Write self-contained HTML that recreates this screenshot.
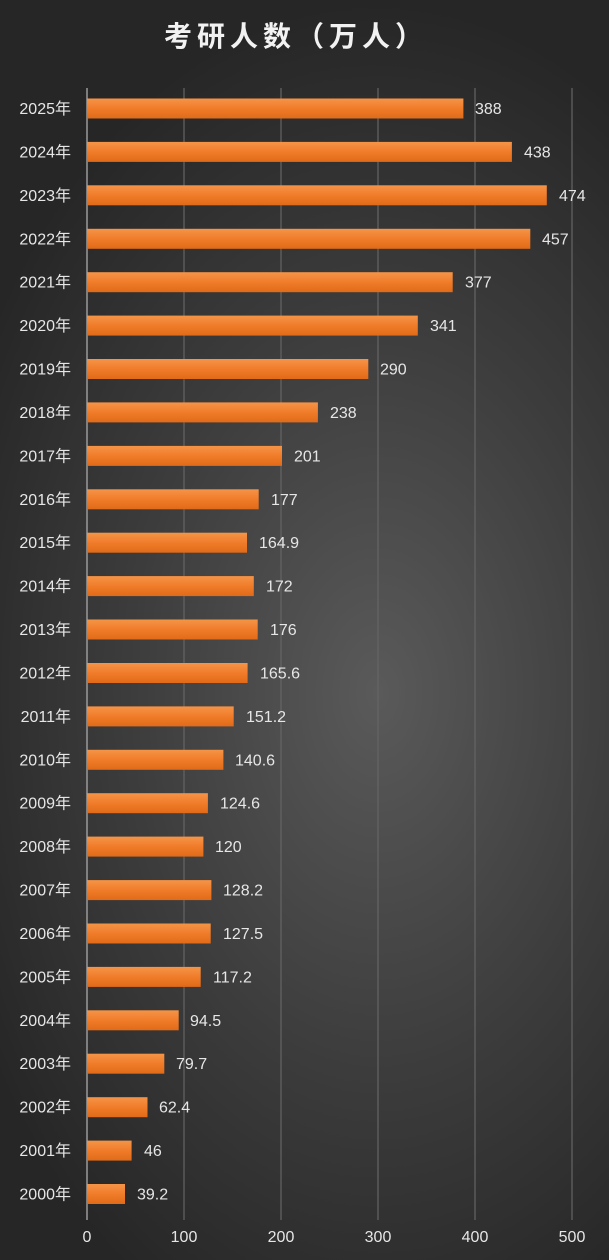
<!DOCTYPE html>
<html><head><meta charset="utf-8"><style>
html,body{margin:0;padding:0;}
body{width:609px;height:1260px;overflow:hidden;background:radial-gradient(ellipse 75% 55% at 62% 55%,#5a5a5a 0%,#3c3c3c 55%,#262626 100%);}
svg{display:block;font-family:"Liberation Sans","Noto Sans CJK SC",sans-serif;}
.y{fill:#e6e6e6;font-size:16px;text-anchor:end;}
.v{fill:#e6e6e6;font-size:16px;}
.t{fill:#e6e6e6;font-size:16px;text-anchor:middle;}
</style></head><body>
<svg width="609" height="1260" viewBox="0 0 609 1260">
<defs><linearGradient id="g" x1="0" y1="0" x2="0" y2="1"><stop offset="0" stop-color="#f59447"/><stop offset="0.5" stop-color="#f07c2a"/><stop offset="1" stop-color="#e06a18"/></linearGradient></defs>
<text x="296" y="46" text-anchor="middle" fill="#f2f2f2" font-size="28" font-weight="bold" letter-spacing="5" font-family="'Noto Sans CJK SC',sans-serif">考研人数（万人）</text>
<g stroke="#656565" stroke-width="1.2">
<line x1="184" y1="88" x2="184" y2="1220"/><line x1="281" y1="88" x2="281" y2="1220"/><line x1="378" y1="88" x2="378" y2="1220"/><line x1="475" y1="88" x2="475" y2="1220"/><line x1="572" y1="88" x2="572" y2="1220"/>
</g>
<line x1="87" y1="88" x2="87" y2="1220" stroke="#9a9a9a" stroke-width="1.5"/>
<g fill="url(#g)">
<rect x="87" y="98.5" width="376.4" height="20"/>
<rect x="87" y="141.9" width="424.9" height="20"/>
<rect x="87" y="185.3" width="459.8" height="20"/>
<rect x="87" y="228.8" width="443.3" height="20"/>
<rect x="87" y="272.2" width="365.7" height="20"/>
<rect x="87" y="315.6" width="330.8" height="20"/>
<rect x="87" y="359" width="281.3" height="20"/>
<rect x="87" y="402.4" width="230.9" height="20"/>
<rect x="87" y="445.9" width="195" height="20"/>
<rect x="87" y="489.3" width="171.7" height="20"/>
<rect x="87" y="532.7" width="160" height="20"/>
<rect x="87" y="576.1" width="166.8" height="20"/>
<rect x="87" y="619.5" width="170.7" height="20"/>
<rect x="87" y="663" width="160.6" height="20"/>
<rect x="87" y="706.4" width="146.7" height="20"/>
<rect x="87" y="749.8" width="136.4" height="20"/>
<rect x="87" y="793.2" width="120.9" height="20"/>
<rect x="87" y="836.6" width="116.4" height="20"/>
<rect x="87" y="880.1" width="124.4" height="20"/>
<rect x="87" y="923.5" width="123.7" height="20"/>
<rect x="87" y="966.9" width="113.7" height="20"/>
<rect x="87" y="1010.3" width="91.7" height="20"/>
<rect x="87" y="1053.7" width="77.3" height="20"/>
<rect x="87" y="1097.2" width="60.5" height="20"/>
<rect x="87" y="1140.6" width="44.6" height="20"/>
<rect x="87" y="1184" width="38" height="20"/>
</g>
<g class="y">
<text x="71" y="114">2025年</text><text x="71" y="157.4">2024年</text><text x="71" y="200.8">2023年</text><text x="71" y="244.3">2022年</text><text x="71" y="287.7">2021年</text><text x="71" y="331.1">2020年</text><text x="71" y="374.5">2019年</text><text x="71" y="417.9">2018年</text><text x="71" y="461.4">2017年</text><text x="71" y="504.8">2016年</text><text x="71" y="548.2">2015年</text><text x="71" y="591.6">2014年</text><text x="71" y="635">2013年</text><text x="71" y="678.5">2012年</text><text x="71" y="721.9">2011年</text><text x="71" y="765.3">2010年</text><text x="71" y="808.7">2009年</text><text x="71" y="852.1">2008年</text><text x="71" y="895.6">2007年</text><text x="71" y="939">2006年</text><text x="71" y="982.4">2005年</text><text x="71" y="1025.8">2004年</text><text x="71" y="1069.2">2003年</text><text x="71" y="1112.7">2002年</text><text x="71" y="1156.1">2001年</text><text x="71" y="1199.5">2000年</text>
</g>
<g class="v">
<text x="475" y="114">388</text><text x="524" y="157.4">438</text><text x="559" y="200.8">474</text><text x="542" y="244.3">457</text><text x="465" y="287.7">377</text><text x="430" y="331.1">341</text><text x="380" y="374.5">290</text><text x="330" y="417.9">238</text><text x="294" y="461.4">201</text><text x="271" y="504.8">177</text><text x="259" y="548.2">164.9</text><text x="266" y="591.6">172</text><text x="270" y="635">176</text><text x="260" y="678.5">165.6</text><text x="246" y="721.9">151.2</text><text x="235" y="765.3">140.6</text><text x="220" y="808.7">124.6</text><text x="215" y="852.1">120</text><text x="223" y="895.6">128.2</text><text x="223" y="939">127.5</text><text x="213" y="982.4">117.2</text><text x="190" y="1025.8">94.5</text><text x="176" y="1069.2">79.7</text><text x="159" y="1112.7">62.4</text><text x="144" y="1156.1">46</text><text x="137" y="1199.5">39.2</text>
</g>
<g class="t">
<text x="87" y="1242">0</text><text x="184" y="1242">100</text><text x="281" y="1242">200</text><text x="378" y="1242">300</text><text x="475" y="1242">400</text><text x="572" y="1242">500</text>
</g>
</svg>
</body></html>
